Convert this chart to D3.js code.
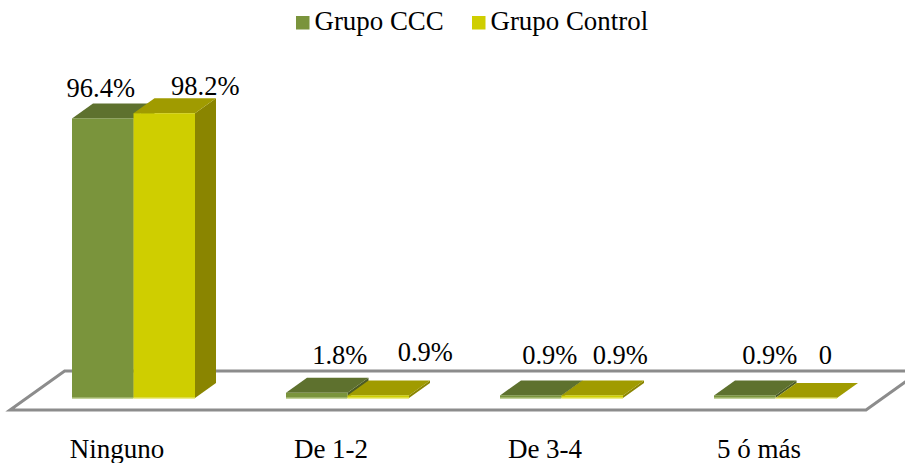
<!DOCTYPE html>
<html>
<head>
<meta charset="utf-8">
<script src="https://cdn.jsdelivr.net/npm/d3@7"></script>
<style>
    html, body { margin: 0; padding: 0; background: #fff; overflow: hidden; }
    text { font-family: "Liberation Serif", serif; font-size: 26.5px; fill: #000; }
</style>
</head>
<body>
<div id="chart"></div>
<script>
'use strict';

const categories = ["Ninguno", "De 1-2", "De 3-4", "5 ó más"];
const seriesNames = ["Grupo CCC", "Grupo Control"];
const grupoCCC = [96.4, 1.8, 0.9, 0.9];
const grupoControl = [98.2, 0.9, 0.9, 0];

const width = 905, height = 463;
const colors = [
    { front: "#7a943c", top: "#5e712e", side: "#4c5c25", base: "#c3d29a" },
    { front: "#cfce00", top: "#a09b00", side: "#8a8500", base: "#ecec8c" }
];
// 3d depth of bars and floor
const depthX = 21, depthY = 15;
const barShift = 62;

// hand placed labels, same as the original chart
const labelNudge = [
    [[-2, -21], [23, -29], [19, -31], [25, -31]],
    [[41, -18], [47, -34], [28, -31], [19, -34]]
];

const x0 = d3.scaleBand()
    .domain(categories)
    .range([10, 866]);

const x1 = d3.scaleBand()
    .domain(seriesNames)
    .range([0, 123]);

const y = d3.scaleLinear()
    .domain([0, 100])
    .range([398, 108]);

const svg = d3.select("#chart").append("svg")
    .attr("width", width)
    .attr("height", height)
    .style("display", "block");

// floor
const floorFront = 410, floorBack = 371;
const floorDx = (floorFront - floorBack) * depthX / depthY;
const [fx0, fx1] = x0.range();
svg.append("polygon")
    .attr("points", [
        [fx0, floorFront], [fx1, floorFront],
        [fx1 + floorDx, floorBack], [fx0 + floorDx, floorBack]
    ].join(" "))
    .style("fill", "#fff")
    .style("stroke", "#8c8c8c")
    .style("stroke-width", "3px");

// bars
const values = [grupoCCC, grupoControl];
const bars = svg.append("g");

categories.forEach((cat, c) => {
    seriesNames.forEach((name, s) => {
        const v = values[s][c];
        const left = x0(cat) + barShift + x1(name);
        const right = left + x1.bandwidth();
        const top = y(v), bottom = y(0);
        const col = colors[s];

        bars.append("polygon")
            .attr("points", [
                [right, top], [right + depthX, top - depthY],
                [right + depthX, bottom - depthY], [right, bottom]
            ].join(" "))
            .style("fill", col.side);

        bars.append("polygon")
            .attr("points", [
                [left, top], [right, top],
                [right + depthX, top - depthY], [left + depthX, top - depthY]
            ].join(" "))
            .style("fill", col.top);

        bars.append("rect")
            .attr("x", left)
            .attr("y", top)
            .attr("width", x1.bandwidth())
            .attr("height", bottom - top)
            .style("fill", col.front);

        // light strip under the bar
        bars.append("rect")
            .attr("x", left)
            .attr("y", bottom - 0.5)
            .attr("width", x1.bandwidth())
            .attr("height", 1.5)
            .style("fill", col.base);
    });
});

// value labels
categories.forEach((cat, c) => {
    seriesNames.forEach((name, s) => {
        const v = values[s][c];
        const nudge = labelNudge[s][c];
        svg.append("text")
            .attr("x", x0(cat) + barShift + x1(name) + x1.bandwidth() / 2 + nudge[0])
            .attr("y", y(v) + nudge[1])
            .attr("text-anchor", "middle")
            .text(v === 0 ? "0" : v.toFixed(1) + "%");
    });
});

// category axis
const xAxis = d3.axisBottom()
    .scale(x0)
    .tickSize(0)
    .tickPadding(0);

const axisG = svg.append("g")
    .attr("transform", "translate(0,439)")
    .call(xAxis);
axisG.select(".domain").remove();
axisG.selectAll("text")
    .attr("dy", null)
    .attr("y", 19)
    .style("font-family", '"Liberation Serif", serif')
    .style("font-size", "27px");

// legend
const legendX = [296, 472];
const legend = svg.append("g");
seriesNames.forEach((name, s) => {
    legend.append("rect")
        .attr("x", legendX[s])
        .attr("y", 16)
        .attr("width", 13.5)
        .attr("height", 13.5)
        .style("fill", colors[s].front);
    legend.append("text")
        .attr("x", legendX[s] + 18.5)
        .attr("y", 30)
        .style("font-size", "26.9px")
        .text(name);
});
</script>
</body>
</html>
